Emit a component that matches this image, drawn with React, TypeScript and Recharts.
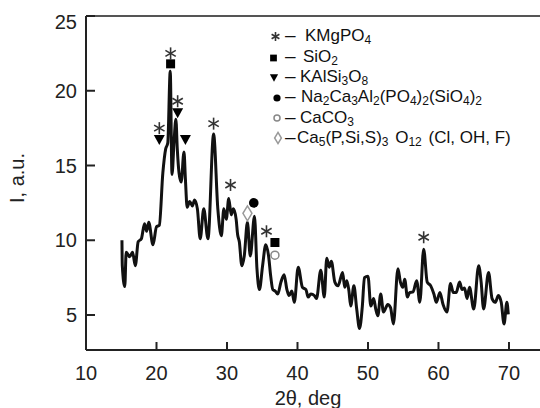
import React from "react";
import { ComposedChart, Line, Scatter, XAxis, YAxis, ReferenceLine } from "recharts";

// 2theta (deg) and intensity (a.u.)
const angle = [
  15.1, 15.15, 15.5, 15.7, 16.2, 16.6, 17.0, 17.4, 17.85, 18.3, 18.6, 18.9, 19.5, 20.0, 20.4, 20.9,
  21.3, 21.6, 21.95, 22.2, 22.5, 22.75, 22.95, 23.2, 23.5, 23.9, 24.1, 24.35, 24.7, 25.1, 25.4, 25.8,
  26.2, 26.7, 27.3, 28.1, 28.7, 29.2, 29.55, 29.9, 30.25, 30.6, 30.9, 31.3, 31.5, 31.75, 32.1, 32.45,
  32.9, 33.3, 33.9, 34.25, 34.6, 35.05, 35.5, 35.9, 36.2, 36.5, 36.85, 37.2, 37.65, 38.1, 38.5, 38.8,
  39.2, 39.55, 40.1, 40.7, 41.2, 41.5, 41.9, 42.4, 42.7, 43.3, 43.8, 44.15, 44.5, 44.8, 45.3, 45.75,
  46.4, 46.7, 47.0, 47.3, 47.55, 48.0, 48.4, 48.8, 49.2, 49.5, 50.0, 50.4, 50.8, 51.1, 51.4, 51.8,
  52.2, 52.8, 53.2, 53.6, 54.25, 54.6, 54.95, 55.2, 55.6, 55.9, 56.4, 56.9, 57.35, 57.9, 58.4, 58.9,
  59.35, 59.7, 60.2, 60.65, 61.2, 61.7, 62.1, 62.5, 63.0, 63.35, 63.7, 64.05, 64.4, 65.0, 65.7, 66.05,
  66.4, 67.1, 67.6, 68.05, 68.5, 68.9, 69.3, 69.7, 69.9,
];
const intensity = [
  10.0, 8.3, 6.9, 9.2, 8.9, 9.2, 8.3, 9.9, 10.1, 11.1, 10.6, 11.2, 9.7, 10.9, 11.0, 14.5,
  16.1, 16.5, 21.3, 14.4, 16.7, 18.1, 16.1, 14.5, 13.9, 15.9, 14.1, 12.2, 12.6, 12.3, 12.7, 12.1,
  10.1, 12.1, 10.1, 17.1, 12.1, 10.3, 12.1, 11.4, 12.8, 11.7, 12.1, 11.4, 10.4, 9.9, 8.3, 8.95,
  11.2, 8.95, 11.6, 8.1, 6.7, 8.3, 9.7, 8.95, 7.6, 6.7, 6.6, 6.4, 7.2, 7.7, 6.7, 6.3,
  6.6, 5.85, 8.2, 6.85, 6.7, 6.2, 6.4, 6.3, 6.1, 8.0, 6.2, 8.8, 8.2, 8.6, 7.2, 6.95,
  7.85, 6.85, 7.3, 6.6, 5.6, 6.95, 5.4, 4.1, 5.6, 7.5, 7.6, 5.6, 6.1, 5.4, 4.95, 6.4,
  5.2, 5.7, 5.5, 4.4, 8.1, 7.2, 6.85, 7.4, 6.2, 6.5, 6.55, 7.3, 5.85, 9.4, 7.2, 6.95,
  6.4, 5.85, 6.5, 5.7, 5.2, 7.1, 6.5, 6.5, 7.2, 6.7, 6.8, 6.1, 6.85, 5.4, 8.3, 7.2,
  5.4, 7.85, 6.1, 5.85, 6.3, 5.85, 4.4, 5.85, 5.05,
];

const xTicks = [10, 20, 30, 40, 50, 60, 70];
const yTicks = [5, 10, 15, 20, 25];

// phase markers placed over the peaks
const kmgpo4Marks = [
  { x: 20.4, y: 17.5 }, { x: 22.0, y: 22.5 }, { x: 23.0, y: 19.3 }, { x: 28.1, y: 17.8 },
  { x: 30.5, y: 13.7 }, { x: 35.6, y: 10.6 }, { x: 57.9, y: 10.2 },
];
const sio2Marks = [{ x: 22.0, y: 21.8 }, { x: 36.8, y: 9.85 }];
const feldsparMarks = [{ x: 20.4, y: 16.7 }, { x: 23.0, y: 18.5 }, { x: 24.1, y: 16.7 }];
const phosphateMarks = [{ x: 33.8, y: 12.5 }];
const calciteMarks = [{ x: 36.8, y: 9.0 }];
const apatiteMarks = [{ x: 32.9, y: 11.8 }];

// legend rows: odd entries are subscripts
const legendRows = [
  ["KMgPO", "4"],
  ["SiO", "2"],
  ["KAlSi", "3", "O", "8"],
  ["Na", "2", "Ca", "3", "Al", "2", "(PO", "4", ")", "2", "(SiO", "4", ")", "2"],
  ["CaCO", "3"],
  ["Ca", "5", "(P,Si,S)", "3", " O", "12", " (Cl, OH, F)"],
];

const spectrum = angle.map((a, i) => ({ x: a, y: intensity[i] }));

const FONT = "'Liberation Sans', Arial, sans-serif";
const AXIS = "#222";

function Asterisk({ cx, cy, s = 1 }: any) {
  const r = 6 * s;
  const dx = r * Math.cos(Math.PI / 6);
  const dy = r * Math.sin(Math.PI / 6);
  return (
    <g stroke="#333" strokeWidth={1.6}>
      <line x1={cx} y1={cy - r} x2={cx} y2={cy + r} />
      <line x1={cx - dx} y1={cy - dy} x2={cx + dx} y2={cy + dy} />
      <line x1={cx - dx} y1={cy + dy} x2={cx + dx} y2={cy - dy} />
    </g>
  );
}

function Square({ cx, cy, s = 1 }: any) {
  const h = 4.5 * s;
  return <rect x={cx - h} y={cy - h} width={2 * h} height={2 * h} fill="#000" />;
}

function Triangle({ cx, cy, s = 1 }: any) {
  const w = 5.5 * s;
  const h = 5 * s;
  return <path d={`M${cx - w},${cy - h}L${cx + w},${cy - h}L${cx},${cy + h}Z`} fill="#000" />;
}

function Dot({ cx, cy, s = 1 }: any) {
  return <circle cx={cx} cy={cy} r={4.8 * s} fill="#000" />;
}

function Ring({ cx, cy, s = 1 }: any) {
  return <circle cx={cx} cy={cy} r={4 * s} fill="#fff" stroke="#888" strokeWidth={1.5} />;
}

function Diamond({ cx, cy, s = 1 }: any) {
  const w = 4.5 * s;
  const h = 7.5 * s;
  return (
    <path
      d={`M${cx},${cy - h}L${cx + w},${cy}L${cx},${cy + h}L${cx - w},${cy}Z`}
      fill="#fff"
      stroke="#999"
      strokeWidth={1.5}
    />
  );
}

const XTick = ({ x, y, payload }: any) => (
  <g>
    <line x1={x} y1={y} x2={x} y2={y - 8} stroke={AXIS} strokeWidth={2} />
    <text x={x} y={y + 30} textAnchor="middle" fontSize={20} fontFamily={FONT} fill="#222">
      {payload.value}
    </text>
  </g>
);

const YTick = ({ x, y, payload }: any) => (
  <g>
    <line x1={x} y1={y} x2={x + 9} y2={y} stroke={AXIS} strokeWidth={2} />
    <text
      x={x - 9}
      y={y + (payload.value === 25 ? 13 : 7)}
      textAnchor="end"
      fontSize={20}
      fontFamily={FONT}
      fill="#222"
    >
      {payload.value}
    </text>
  </g>
);

function Formula({ parts, x, y }: { parts: string[]; x: number; y: number }) {
  return (
    <text x={x} y={y} fontSize={17} fontFamily={FONT} fill="#111">
      {parts.map((p, i) => {
        const sub = i % 2 === 1;
        const prevSub = i > 0 && (i - 1) % 2 === 1;
        const dy = sub ? 3 : prevSub ? -3 : 0;
        return (
          <tspan key={i} dy={dy} dx={p.startsWith(" ") ? 2 : 0} fontSize={sub ? 12 : 17}>
            {p}
          </tspan>
        );
      })}
    </text>
  );
}

const legendMarkers = [Asterisk, Square, Triangle, Dot, Ring, Diamond];
const legendMarkerX = [275.5, 273.5, 274, 277, 277, 278];
const legendMarkerY = [36.5, 58, 78, 98, 118, 138];
const legendTextX = [305, 303, 300, 301, 300, 297];
const legendBaseline = [41, 62, 82, 102, 122.5, 142.5];

export default function App() {
  return (
    <div style={{ position: "absolute", left: 0, top: 0, width: 540, height: 408, background: "#fff" }}>
      <ComposedChart width={540} height={408} margin={{ top: 16, right: 0, bottom: 0, left: 0 }}>
        <XAxis
          type="number"
          dataKey="x"
          domain={[10, 74.4]}
          ticks={xTicks}
          interval={0}
          allowDataOverflow
          height={58}
          tickSize={0}
          tickMargin={0}
          tickLine={false}
          tick={<XTick />}
          axisLine={{ stroke: AXIS, strokeWidth: 2 }}
        />
        <YAxis
          type="number"
          dataKey="y"
          domain={[2.66, 25]}
          ticks={yTicks}
          interval={0}
          allowDataOverflow
          width={86}
          tickSize={0}
          tickMargin={0}
          tickLine={false}
          tick={<YTick />}
          axisLine={{ stroke: AXIS, strokeWidth: 2 }}
        />
        <ReferenceLine y={25} stroke="#555" strokeWidth={2} />
        <Line
          data={spectrum}
          dataKey="y"
          type="monotone"
          stroke="#111"
          strokeWidth={3}
          dot={false}
          isAnimationActive={false}
        />
        <Scatter data={kmgpo4Marks} dataKey="y" shape={(p: any) => <Asterisk cx={p.cx} cy={p.cy} />} isAnimationActive={false} />
        <Scatter data={sio2Marks} dataKey="y" shape={(p: any) => <Square cx={p.cx} cy={p.cy} />} isAnimationActive={false} />
        <Scatter data={feldsparMarks} dataKey="y" shape={(p: any) => <Triangle cx={p.cx} cy={p.cy} />} isAnimationActive={false} />
        <Scatter data={phosphateMarks} dataKey="y" shape={(p: any) => <Dot cx={p.cx} cy={p.cy} />} isAnimationActive={false} />
        <Scatter data={calciteMarks} dataKey="y" shape={(p: any) => <Ring cx={p.cx} cy={p.cy} />} isAnimationActive={false} />
        <Scatter data={apatiteMarks} dataKey="y" shape={(p: any) => <Diamond cx={p.cx} cy={p.cy} />} isAnimationActive={false} />
      </ComposedChart>
      <svg width={540} height={408} style={{ position: "absolute", left: 0, top: 0, pointerEvents: "none" }}>
        {legendRows.map((parts, i) => {
          const M = legendMarkers[i];
          return (
            <g key={i}>
              <M cx={legendMarkerX[i]} cy={legendMarkerY[i]} s={0.75} />
              <text x={285} y={legendBaseline[i]} fontSize={19} fontFamily={FONT} fill="#111">
                –
              </text>
              <Formula parts={parts} x={legendTextX[i]} y={legendBaseline[i]} />
            </g>
          );
        })}
        <text
          x={17}
          y={178}
          transform="rotate(-90 17 178)"
          textAnchor="middle"
          dominantBaseline="central"
          fontSize={20}
          fontFamily={FONT}
          fill="#222"
        >
          I, a.u.
        </text>
        <text x={308} y={405} textAnchor="middle" fontSize={20} fontFamily={FONT} fill="#222">
          2θ, deg
        </text>
      </svg>
    </div>
  );
}
